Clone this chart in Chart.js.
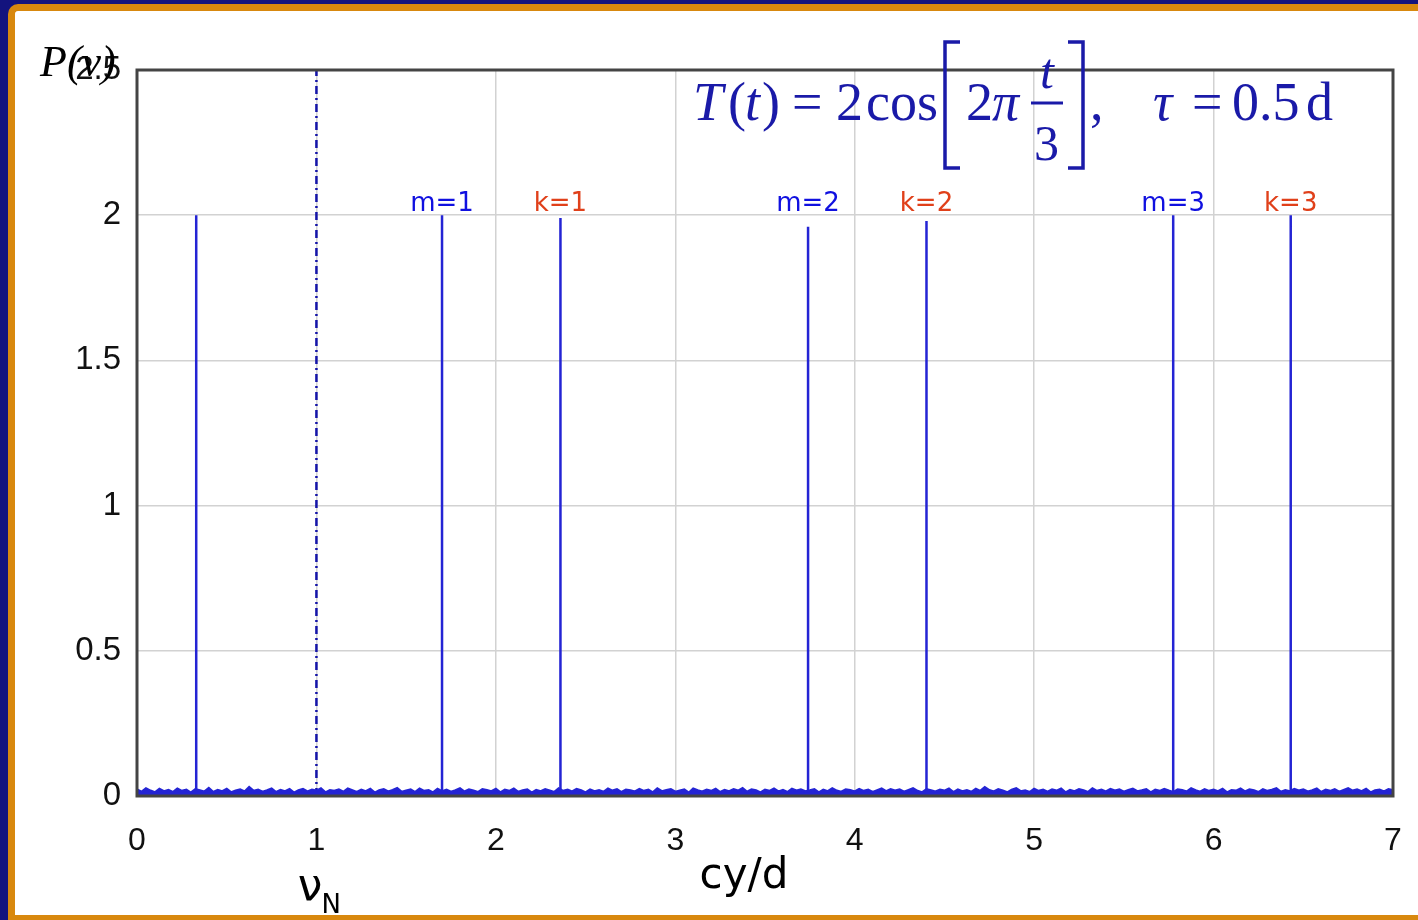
<!DOCTYPE html>
<html>
<head>
<meta charset="utf-8">
<script src="https://cdn.jsdelivr.net/npm/chart.js@4.4.1/dist/chart.umd.min.js"></script>
<style>
  html, body { margin: 0; padding: 0; width: 1418px; height: 920px; overflow: hidden; background: #13137e; }
  #frame {
    position: absolute; left: 8px; top: 4px; right: 0; bottom: 0;
    background: #fff;
    border-left: 7px solid #d8880e;
    border-top: 7px solid #d8880e;
    border-bottom: 5px solid #d8880e;
    border-top-left-radius: 10px;
  }
  #chart { position: absolute; left: 0; top: 0; }
</style>
</head>
<body>
<div id="frame"></div>
<canvas id="chart" width="1418" height="920"></canvas>
<script>
// periodogram of the sampled cosine (tau = 0.5 d, so nu_N = 1 cy/d)
const xTicks = [0, 1, 2, 3, 4, 5, 6, 7];
const yTicks = [0, 0.5, 1, 1.5, 2, 2.5];

const noiseStep = 0.025; // cy/d between noise samples
const noisePower = [
  0.022, 0.014, 0.026, 0.018, 0.012, 0.024, 0.016, 0.020, 0.013, 0.025,
  0.017, 0.021, 0.011, 0.023, 0.019, 0.015, 0.027, 0.013, 0.020, 0.016,
  0.024, 0.012, 0.018, 0.022, 0.015, 0.030, 0.017, 0.021, 0.014, 0.019,
  0.025, 0.013, 0.020, 0.016, 0.023, 0.011, 0.019, 0.024, 0.015, 0.021,
  0.018, 0.026, 0.012, 0.020, 0.017, 0.022, 0.014, 0.025, 0.019, 0.013,
  0.021, 0.016, 0.024, 0.011, 0.019, 0.023, 0.015, 0.020, 0.027, 0.014,
  0.018, 0.022, 0.013, 0.025, 0.017, 0.020, 0.012, 0.024, 0.016, 0.021,
  0.014, 0.019, 0.026, 0.015, 0.022, 0.018, 0.013, 0.023, 0.020, 0.016,
  0.024, 0.012, 0.021, 0.017, 0.025, 0.014, 0.019, 0.022, 0.011, 0.020,
  0.016, 0.023, 0.018, 0.013, 0.026, 0.017, 0.021, 0.015, 0.024, 0.019,
  0.012, 0.022, 0.016, 0.020, 0.014, 0.025, 0.018, 0.023, 0.013, 0.021,
  0.019, 0.015, 0.024, 0.017, 0.021, 0.012, 0.026, 0.016, 0.020, 0.023,
  0.014, 0.018, 0.022, 0.011, 0.025, 0.019, 0.015, 0.021, 0.017, 0.024,
  0.013, 0.020, 0.016, 0.023, 0.018, 0.027, 0.014, 0.022, 0.019, 0.012,
  0.021, 0.017, 0.025, 0.015, 0.020, 0.013, 0.024, 0.018, 0.022, 0.016,
  0.019, 0.023, 0.012, 0.021, 0.016, 0.026, 0.018, 0.014, 0.022, 0.020,
  0.015, 0.024, 0.017, 0.021, 0.013, 0.019, 0.025, 0.016, 0.023, 0.018,
  0.022, 0.014, 0.020, 0.026, 0.017, 0.012, 0.023, 0.019, 0.015, 0.021,
  0.018, 0.025, 0.013, 0.022, 0.016, 0.020, 0.014, 0.024, 0.017, 0.030,
  0.020, 0.015, 0.023, 0.018, 0.012, 0.021, 0.026, 0.016, 0.019, 0.013,
  0.024, 0.017, 0.021, 0.014, 0.022, 0.018, 0.025, 0.012, 0.020, 0.016,
  0.023, 0.019, 0.013, 0.026, 0.017, 0.021, 0.015, 0.024, 0.018, 0.022,
  0.014, 0.020, 0.025, 0.016, 0.019, 0.023, 0.012, 0.021, 0.017, 0.024,
  0.018, 0.013, 0.022, 0.020, 0.015, 0.026, 0.019, 0.014, 0.023, 0.017,
  0.021, 0.016, 0.024, 0.012, 0.020, 0.018, 0.025, 0.015, 0.022, 0.019,
  0.013, 0.023, 0.017, 0.021, 0.026, 0.014, 0.020, 0.016, 0.024, 0.018,
  0.022, 0.015, 0.019, 0.025, 0.013, 0.021, 0.017, 0.023, 0.014, 0.020,
  0.026, 0.018, 0.022, 0.016, 0.024, 0.012, 0.019, 0.021, 0.015, 0.023,
  0.020
];

const peakFreq   = [0.33, 1.70, 2.36, 3.74, 4.40, 5.775, 6.43];
const peakPower  = [2.00, 2.00, 1.99, 1.96, 1.98, 2.00, 2.00];
const peakLabels = ['', 'm=1', 'k=1', 'm=2', 'k=2', 'm=3', 'k=3'];

const nyquistFreq = 1;

const BLUE = '#2424d4';
const LABEL_BLUE = '#1010e0';
const LABEL_RED = '#e0401a';
const FORMULA_BLUE = '#1a1aa8';

const noiseData = noisePower.map((p, i) => ({ x: i * noiseStep, y: p }));
const spikeData = [];
peakFreq.forEach((f, i) => {
  spikeData.push({ x: f, y: 0 }, { x: f, y: peakPower[i] }, { x: f, y: null });
});

// text that is not part of the axes: labels over peaks, formula, nu_N, axis names
const annotations = {
  id: 'annotations',
  afterDraw(chart) {
    const { ctx, chartArea: a, scales } = chart;
    ctx.save();

    // plot frame
    ctx.strokeStyle = '#444';
    ctx.lineWidth = 3;
    ctx.strokeRect(a.left, a.top, a.right - a.left, a.bottom - a.top);

    // peak labels
    ctx.font = '26px "DejaVu Sans"';
    ctx.textAlign = 'center';
    ctx.textBaseline = 'alphabetic';
    peakLabels.forEach((lab, i) => {
      if (!lab) return;
      ctx.fillStyle = lab[0] === 'm' ? LABEL_BLUE : LABEL_RED;
      ctx.fillText(lab, scales.x.getPixelForValue(peakFreq[i]), scales.y.getPixelForValue(2) - 4);
    });

    // nu_N under the Nyquist line
    const xn = scales.x.getPixelForValue(nyquistFreq);
    ctx.fillStyle = '#000';
    ctx.font = '44px "DejaVu Sans"';
    ctx.textAlign = 'right';
    ctx.fillText('\u03bd', xn + 6, 900);
    ctx.font = '26px "DejaVu Sans"';
    ctx.textAlign = 'left';
    ctx.fillText('N', xn + 5, 913);

    // x axis name
    ctx.font = '42px "DejaVu Sans"';
    ctx.textAlign = 'center';
    ctx.fillText('cy/d', 744, 888);

    // y axis name
    ctx.font = 'italic 44px "Liberation Serif"';
    ctx.textAlign = 'left';
    ctx.fillText('P(\u03bd)', 40, 76);

    // formula
    ctx.fillStyle = FORMULA_BLUE;
    const base = 120;
    const piece = (txt, x, italic, size, y) => {
      ctx.font = (italic ? 'italic ' : '') + (size || 54) + 'px "Liberation Serif"';
      ctx.fillText(txt, x, y || base);
    };
    piece('T', 693, true);
    piece('(', 728, false);
    piece('t', 745, true);
    piece(')', 762, false);
    piece('=', 792, false);
    piece('2', 836, false);
    piece('cos', 866, false);
    piece('2', 966, false);
    piece('\u03c0', 992, true);
    piece('t', 1040, true, 50, 88);
    piece('3', 1034, false, 50, 160);
    piece(',', 1090, false);
    piece('\u03c4', 1153, true);
    piece('=', 1192, false);
    piece('0.5', 1232, false);
    piece('d', 1306, false);

    ctx.strokeStyle = FORMULA_BLUE;
    ctx.lineWidth = 3;
    // fraction bar
    ctx.beginPath();
    ctx.moveTo(1031, 103); ctx.lineTo(1063, 103);
    ctx.stroke();
    // brackets
    ctx.lineWidth = 3.5;
    ctx.beginPath();
    ctx.moveTo(960, 42); ctx.lineTo(945, 42); ctx.lineTo(945, 168); ctx.lineTo(960, 168);
    ctx.moveTo(1068, 42); ctx.lineTo(1083, 42); ctx.lineTo(1083, 168); ctx.lineTo(1068, 168);
    ctx.stroke();

    ctx.restore();
  }
};

new Chart(document.getElementById('chart'), {
  type: 'scatter',
  data: {
    datasets: [
      {
        data: noiseData, showLine: true, borderColor: BLUE, borderWidth: 2.5,
        backgroundColor: BLUE, fill: 'origin', pointRadius: 0, tension: 0
      },
      {
        data: spikeData, showLine: true, spanGaps: false, borderColor: BLUE, borderWidth: 2.5,
        pointRadius: 0
      },
      {
        data: [{ x: nyquistFreq, y: 0 }, { x: nyquistFreq, y: 2.5 }], showLine: true,
        borderColor: '#1414a8', borderWidth: 2.5, borderDash: [8, 4, 2, 4], pointRadius: 0
      }
    ]
  },
  options: {
    responsive: false,
    animation: false,
    devicePixelRatio: 1,
    layout: { padding: { top: 70, right: 25, left: 0, bottom: 0 } },
    plugins: { legend: { display: false }, tooltip: { enabled: false } },
    scales: {
      x: {
        type: 'linear', min: 0, max: 7,
        afterBuildTicks: s => { s.ticks = xTicks.map(v => ({ value: v })); },
        afterFit: s => { s.height = 124; s.paddingLeft = 0; s.paddingRight = 0; },
        grid: { color: '#d2d2d2', lineWidth: 1.5, drawTicks: false },
        border: { display: false },
        ticks: { padding: 26, color: '#111', font: { family: 'Liberation Sans', size: 32 } }
      },
      y: {
        min: 0, max: 2.5,
        afterBuildTicks: s => { s.ticks = yTicks.map(v => ({ value: v })); },
        afterFit: s => { s.width = 137; s.paddingTop = 0; s.paddingBottom = 0; },
        grid: { color: '#d2d2d2', lineWidth: 1.5, drawTicks: false },
        border: { display: false },
        ticks: {
          padding: 16, color: '#111', font: { family: 'Liberation Sans', size: 33 },
          callback: v => String(v)
        }
      }
    }
  },
  plugins: [annotations]
});
</script>
</body>
</html>
